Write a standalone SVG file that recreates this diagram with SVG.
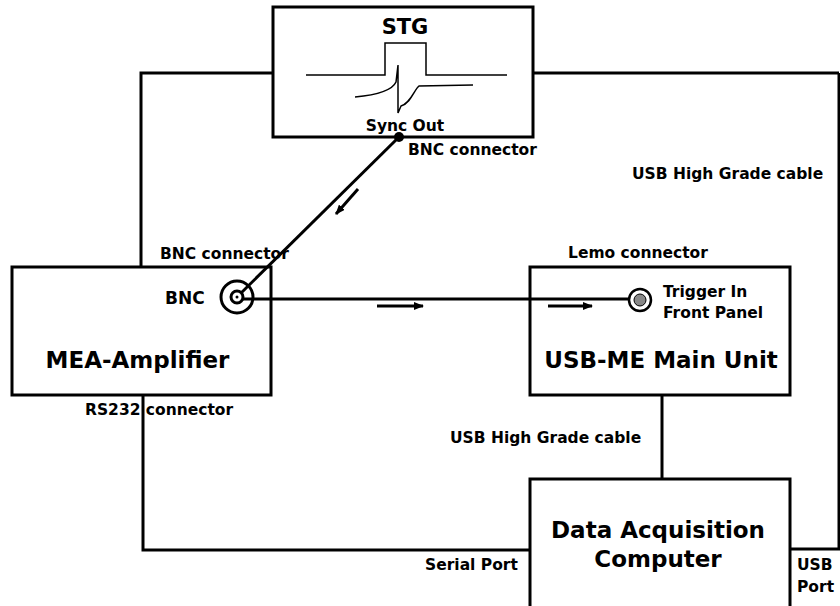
<svg xmlns="http://www.w3.org/2000/svg" width="840" height="606" viewBox="0 0 840 606">
<style>
.box{fill:none;stroke:#000;stroke-width:3}
.wire{fill:none;stroke:#000;stroke-width:3}
.thin{fill:none;stroke:#000;stroke-width:1.5}
text{font-family:"DejaVu Sans",sans-serif;font-weight:bold;fill:#000}
.big{font-size:23px}
.lbl{font-size:15.5px}
</style>
<defs>
<marker id="ah" markerWidth="10" markerHeight="8" refX="9" refY="4" orient="auto" markerUnits="userSpaceOnUse">
<path d="M0,0 L10,4 L0,8 Z" fill="#000"/>
</marker>
</defs>
<rect width="840" height="606" fill="#fff"/>
<g id="connectors">
<path class="wire" d="M273,73 H141 V267"/>
<path class="wire" d="M533,73 H839"/>
<path class="wire" d="M839,73 V549 H790" stroke-width="2"/>
<path class="wire" d="M143,395 V550 H530"/>
<path class="wire" d="M662,395 V479"/>
<path class="wire" d="M399,137 L237,297"/>
<path class="wire" d="M237,299 H630"/>
<path class="wire" d="M358,189 L336,214" marker-end="url(#ah)"/>
<path class="wire" d="M377,306 H423" marker-end="url(#ah)"/>
<path class="wire" d="M548,306 H592" marker-end="url(#ah)"/>
<text class="lbl" x="408" y="155">BNC connector</text>
<text class="lbl" x="632" y="179">USB High Grade cable</text>
<text class="lbl" x="160" y="259">BNC connector</text>
<text class="lbl" x="568" y="258">Lemo connector</text>
<text class="lbl" x="85" y="415">RS232 connector</text>
<text class="lbl" x="450" y="443">USB High Grade cable</text>
<text class="lbl" x="425" y="570">Serial Port</text>
<text class="lbl" x="797" y="570">USB</text>
<text class="lbl" x="797" y="592">Port</text>
</g>
<g id="stg">
<rect class="box" x="273" y="7" width="260" height="130"/>
<text x="405" y="34" text-anchor="middle" font-size="21">STG</text>
<path class="thin" d="M306,75 H385 V43 H426 V75 H507"/>
<path class="thin" d="M355,97 C376,95 392,91 396,82 L398,65 L398,113 L401,106 C411,103 414,90 419,86 L473,85"/>
<text class="lbl" x="405" y="131" text-anchor="middle">Sync Out</text>
<circle cx="399" cy="137" r="5" fill="#000"/>
</g>
<g id="mea-amplifier">
<rect class="box" x="12" y="267" width="259" height="128"/>
<text x="165" y="304" font-size="17">BNC</text>
<circle cx="237" cy="297" r="16" fill="none" stroke="#000" stroke-width="3"/>
<circle cx="237" cy="297" r="6" fill="#fff" stroke="#000" stroke-width="3"/>
<circle cx="237" cy="297" r="1.5" fill="#000"/>
<text class="big" x="137.5" y="368" text-anchor="middle">MEA-Amplifier</text>
</g>
<g id="usb-me-main-unit">
<rect class="box" x="530" y="267" width="260" height="128"/>
<circle cx="640" cy="300" r="11" fill="#fff" stroke="#000" stroke-width="2.5"/>
<circle cx="640" cy="300" r="6" fill="#888" stroke="#000" stroke-width="1"/>
<text class="lbl" x="663" y="297">Trigger In</text>
<text class="lbl" x="663" y="318">Front Panel</text>
<text class="big" x="661" y="368" text-anchor="middle">USB-ME Main Unit</text>
</g>
<g id="data-acquisition-computer">
<rect class="box" x="530" y="479" width="260" height="140"/>
<text class="big" x="658" y="538" text-anchor="middle">Data Acquisition</text>
<text class="big" x="658" y="567" text-anchor="middle">Computer</text>
</g>
</svg>
